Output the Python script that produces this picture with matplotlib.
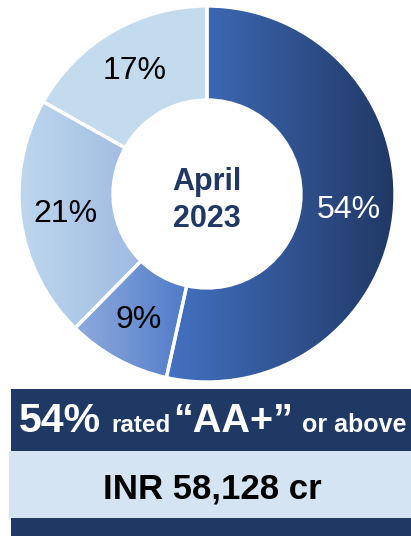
import matplotlib
matplotlib.rcParams['font.family'] = ['Liberation Sans', 'DejaVu Sans']
import matplotlib.pyplot as plt
from matplotlib.colors import LinearSegmentedColormap
from matplotlib.patches import Rectangle
import numpy as np

# data
shares = [54, 9, 21, 17]
labels = ['54%', '9%', '21%', '17%']
# left -> right gradient colours per slice
grad_colors = [('#4472C4', '#203864'),
               ('#90ABDD', '#4573C5'),
               ('#BFD8EE', '#8EA9DB'),
               ('#C4DBEE', '#C4DBEE')]
center_text = 'April\n2023'
headline = ['54%', ' rated ', '\u201cAA+\u201d', ' or above']
amount = 'INR 58,128 cr'

NAVY = '#203864'
LIGHT = '#D5E4F3'

W, H = 411, 536
fig = plt.figure(figsize=(W / 100, H / 100), dpi=100)

# background axes in pixel coordinates for the bands
bg = fig.add_axes([0, 0, 1, 1])
bg.set_xlim(0, W)
bg.set_ylim(H, 0)
bg.axis('off')
bg.add_patch(Rectangle((11, 389), W - 11, 62, color=NAVY, lw=0))
bg.add_patch(Rectangle((9, 451), W - 9, 67, color=LIGHT, lw=0))
bg.add_patch(Rectangle((11, 518), W - 11, 18, color=NAVY, lw=0))

sizes = [29.5, 17.5, 28.5, 18]
xs = [19, 111, 173, 302]
for txt, s, x in zip(headline, sizes, xs):
    bg.text(x, 432, txt.strip(), fontsize=s, fontweight='bold', color='white',
            va='baseline', ha='left')
bg.text(212, 499, amount, fontsize=25, fontweight='bold', color='black',
        va='baseline', ha='center')

# donut
cx, cy, r = 207, 194, 188
ax = fig.add_axes([(cx - r) / W, (H - cy - r) / H, 2 * r / W, 2 * r / H])
wedges, _ = ax.pie(shares, startangle=90, counterclock=False, radius=1,
                   wedgeprops=dict(width=0.5, edgecolor='white', linewidth=2.4))
ax.set_xlim(-1, 1)
ax.set_ylim(-1, 1)
ax.set_aspect('auto')
ax.axis('off')

for w, (c1, c2), lab in zip(wedges, grad_colors, labels):
    verts = w.get_path().vertices
    x0, x1 = verts[:, 0].min(), verts[:, 0].max()
    y0, y1 = verts[:, 1].min(), verts[:, 1].max()
    cmap = LinearSegmentedColormap.from_list('g', [c1, c2])
    im = ax.imshow(np.linspace(0, 1, 256)[None, :], cmap=cmap, aspect='auto',
                   extent=(x0, x1, y0, y1), zorder=1, interpolation='bilinear')
    im.set_clip_path(w)
    w.set_facecolor('none')
    w.set_zorder(2)
    mid = np.deg2rad((w.theta1 + w.theta2) / 2)
    ax.text(0.76 * np.cos(mid), 0.76 * np.sin(mid), lab, fontsize=23,
            color='white' if lab == '54%' else 'black',
            ha='center', va='center', zorder=3)

ax.set_xlim(-1, 1)
ax.set_ylim(-1, 1)
ax.text(0, -0.035, center_text, fontsize=22, fontweight='bold', color=NAVY,
        ha='center', va='center', linespacing=1.3, zorder=3)

fig.savefig('out.png', dpi=100)
